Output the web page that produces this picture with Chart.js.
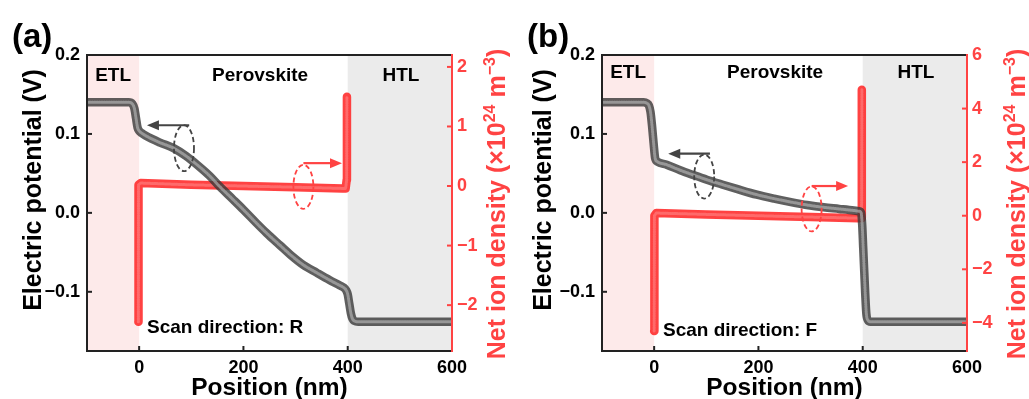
<!DOCTYPE html>
<html lang="en">
<head>
<meta charset="UTF-8">
<title>Electric potential and net ion density</title>
<script src="https://cdn.jsdelivr.net/npm/chart.js"></script>
<style>
  body { margin: 0; background: #fff; }
  #wrap { position: relative; width: 1029px; height: 399px; }
  canvas { position: absolute; top: 0; }
  #chartA { left: 0; }
  #chartB { left: 515px; }
</style>
</head>
<body>
<div id="wrap">
  <canvas id="chartA" width="515" height="399"></canvas>
  <canvas id="chartB" width="514" height="399"></canvas>
</div>
<script>
// (a) scan direction R
const posPotA = [-100, -40, -20, -13, -9, -6, -3, 0, 5, 12, 40, 66, 90, 111, 135, 155, 180, 200, 225, 245, 270, 290, 315, 341, 365, 385, 393, 397, 400, 403, 406, 409, 413, 420, 600];
const potA = [0.140, 0.140, 0.140, 0.138, 0.132, 0.120, 0.108, 0.104, 0.101, 0.098, 0.089, 0.082, 0.072, 0.061, 0.047, 0.033, 0.017, 0.004, -0.013, -0.026, -0.041, -0.053, -0.066, -0.076, -0.085, -0.092, -0.095, -0.098, -0.103, -0.115, -0.127, -0.134, -0.137, -0.138, -0.138];
const posIonA = [-1.5, -1.2, 3, 100, 200, 300, 390, 396, 398, 398.5];
const ionA = [-2.28, 0.02, 0.05, 0.02, 0.0, -0.02, -0.04, -0.04, 0.1, 1.5];

// (b) scan direction F
const posPotB = [-100, -40, -20, -14, -10, -7, -4, -1, 2, 6, 24, 50, 75, 101, 130, 160, 197, 230, 260, 293, 325, 355, 383, 393, 397, 399, 401, 403, 405, 407, 410, 415, 600];
const potB = [0.140, 0.140, 0.140, 0.139, 0.136, 0.128, 0.110, 0.088, 0.069, 0.065, 0.061, 0.054, 0.048, 0.042, 0.036, 0.030, 0.023, 0.018, 0.014, 0.010, 0.007, 0.005, 0.003, 0.002, 0.000, -0.015, -0.045, -0.075, -0.105, -0.128, -0.136, -0.138, -0.138];
const posIonB = [0, 0.5, 4, 100, 200, 300, 392, 397, 398, 398.5];
const ionB = [-4.3, 0.0, 0.1, 0.05, 0.0, -0.05, -0.09, -0.09, 0.5, 4.7];

const xTicks = [0, 200, 400, 600];
const xTickLabels = ['0', '200', '400', '600'];
const potTicks = [-0.1, 0.0, 0.1, 0.2];
const potTickLabels = ['\u22120.1', '0.0', '0.1', '0.2'];
const ionTicksA = [-2, -1, 0, 1, 2];
const ionTickLabelsA = ['\u22122', '\u22121', '0', '1', '2'];
const ionTicksB = [-4, -2, 0, 2, 4, 6];
const ionTickLabelsB = ['\u22124', '\u22122', '0', '2', '4', '6'];

const layers = [
  { name: 'ETL', from: -100, to: 0, mid: -50, color: '#fdeaea' },
  { name: 'Perovskite', from: 0, to: 400, mid: 232, color: null },
  { name: 'HTL', from: 400, to: 600, mid: 502, color: '#ebebeb' }
];

const FONT = '"Liberation Sans", Arial, sans-serif';
const RED = '#ff4343';

function pairs(xs, ys) {
  return xs.map((x, i) => ({ x: x, y: ys[i] }));
}

function arrow(ctx, x0, x1, y, color) {
  const dir = Math.sign(x1 - x0);
  ctx.strokeStyle = color;
  ctx.fillStyle = color;
  ctx.lineWidth = 2.2;
  ctx.setLineDash([]);
  ctx.beginPath();
  ctx.moveTo(x0, y);
  ctx.lineTo(x1 - dir * 8, y);
  ctx.stroke();
  ctx.beginPath();
  ctx.moveTo(x1, y);
  ctx.lineTo(x1 - dir * 12, y - 5);
  ctx.lineTo(x1 - dir * 12, y + 5);
  ctx.closePath();
  ctx.fill();
}

function rotatedText(ctx, parts, cx, cy, size, color) {
  const big = 'bold ' + size + 'px ' + FONT;
  const small = 'bold ' + Math.round(size * 0.62) + 'px ' + FONT;
  ctx.save();
  ctx.translate(cx, cy);
  ctx.rotate(-Math.PI / 2);
  ctx.fillStyle = color;
  ctx.textBaseline = 'alphabetic';
  ctx.textAlign = 'left';
  let total = 0;
  parts.forEach(p => { ctx.font = p[1] ? small : big; total += ctx.measureText(p[0]).width; });
  let xx = -total / 2;
  parts.forEach(p => {
    ctx.font = p[1] ? small : big;
    ctx.fillText(p[0], xx, size * 0.36 - (p[1] ? size * 0.42 : 0));
    xx += ctx.measureText(p[0]).width;
  });
  ctx.restore();
}

const panelDecor = {
  id: 'panelDecor',
  beforeDraw(chart) {
    const { ctx, chartArea: a, scales: { x } } = chart;
    ctx.save();
    layers.forEach(l => {
      if (!l.color) return;
      const x0 = x.getPixelForValue(l.from), x1 = x.getPixelForValue(l.to);
      ctx.fillStyle = l.color;
      ctx.fillRect(x0, a.top, x1 - x0, a.bottom - a.top);
    });
    ctx.restore();
  },
  afterDraw(chart, args, o) {
    const { ctx, chartArea: a, scales: { x, y, y1 } } = chart;
    ctx.save();

    // inward ticks
    ctx.lineWidth = 2;
    ctx.strokeStyle = '#222';
    x.ticks.forEach(t => {
      const px = x.getPixelForValue(t.value);
      ctx.beginPath(); ctx.moveTo(px, a.bottom); ctx.lineTo(px, a.bottom - 5); ctx.stroke();
    });
    y.ticks.forEach(t => {
      const py = y.getPixelForValue(t.value);
      ctx.beginPath(); ctx.moveTo(a.left, py); ctx.lineTo(a.left + 5, py); ctx.stroke();
    });
    ctx.strokeStyle = RED;
    y1.ticks.forEach(t => {
      const py = y1.getPixelForValue(t.value);
      ctx.beginPath(); ctx.moveTo(a.right, py); ctx.lineTo(a.right - 5, py); ctx.stroke();
    });

    // frame
    ctx.strokeStyle = '#222';
    ctx.beginPath();
    ctx.moveTo(a.right, a.top); ctx.lineTo(a.left, a.top);
    ctx.lineTo(a.left, a.bottom); ctx.lineTo(a.right, a.bottom);
    ctx.stroke();
    ctx.strokeStyle = RED;
    ctx.beginPath(); ctx.moveTo(a.right, a.top - 1); ctx.lineTo(a.right, a.bottom + 1); ctx.stroke();

    // layer labels
    ctx.fillStyle = '#000';
    ctx.font = 'bold 19px ' + FONT;
    ctx.textAlign = 'center';
    ctx.textBaseline = 'middle';
    layers.forEach(l => ctx.fillText(l.name, x.getPixelForValue(l.mid), a.top + o.labelDy));

    // scan direction
    ctx.textAlign = 'left';
    ctx.fillText(o.scan, x.getPixelForValue(o.scanX), y.getPixelForValue(o.scanY));

    // panel tag
    ctx.font = 'bold 33px ' + FONT;
    ctx.textBaseline = 'alphabetic';
    ctx.fillText(o.tag, 12, 47);

    // ellipses and arrows
    o.notes.forEach(n => {
      const cx = x.getPixelForValue(n.x), cy = y.getPixelForValue(n.y);
      ctx.strokeStyle = n.color;
      ctx.lineWidth = 1.8;
      ctx.setLineDash([5, 3]);
      ctx.beginPath();
      ctx.ellipse(cx, cy, 10, n.ry, 0, 0, Math.PI * 2);
      ctx.stroke();
      const ay = y.getPixelForValue(n.ay);
      arrow(ctx, x.getPixelForValue(n.ax0), x.getPixelForValue(n.ax1), ay, n.color);
    });

    // axis titles
    rotatedText(ctx, [['Electric potential (V)', 0]], o.leftTitleX, 190, 25, '#000');
    rotatedText(ctx, [['Net ion density (\u00d710', 0], ['24', 1], [' m', 0], ['\u22123', 1], [')', 0]], o.rightTitleX, 204, 25, RED);
    ctx.fillStyle = '#000';
    ctx.font = 'bold 24.5px ' + FONT;
    ctx.textAlign = 'center';
    ctx.textBaseline = 'middle';
    ctx.fillText('Position (nm)', (a.left + a.right) / 2, 388);

    ctx.restore();
  }
};

const tickFont = { family: FONT, size: 18, weight: 'bold' };

function makePanel(id, p) {
  const potData = pairs(p.posPot, p.pot);
  const ionData = pairs(p.posIon, p.ion);
  return new Chart(document.getElementById(id), {
    type: 'line',
    data: {
      datasets: [
        { data: potData, yAxisID: 'y', borderColor: 'rgba(175,175,175,0.7)', borderWidth: 3, borderDash: [1.2, 1.2], cubicInterpolationMode: 'monotone' },
        { data: potData, yAxisID: 'y', borderColor: 'rgba(55,55,55,0.8)', borderWidth: 8.5, cubicInterpolationMode: 'monotone' },
        { data: ionData, yAxisID: 'y1', borderColor: 'rgba(255,140,140,0.55)', borderWidth: 3, borderDash: [1.2, 1.2] },
        { data: ionData, yAxisID: 'y1', borderColor: 'rgba(255,45,45,0.9)', borderWidth: 8.5 }
      ]
    },
    options: {
      responsive: false,
      animation: false,
      events: [],
      layout: { padding: { top: 55, left: 0, right: 0, bottom: 0 } },
      elements: {
        point: { radius: 0 },
        line: { tension: 0, borderCapStyle: 'round', borderJoinStyle: 'round' }
      },
      plugins: { legend: { display: false }, tooltip: { enabled: false }, panelDecor: p.decor },
      scales: {
        x: {
          type: 'linear', min: -100, max: 600,
          grid: { display: false, drawTicks: false }, border: { display: false },
          afterBuildTicks: s => { s.ticks = xTicks.map(v => ({ value: v })); },
          afterFit: s => { s.height = 48; },
          ticks: { padding: 6, color: '#000', font: tickFont, autoSkip: false, maxRotation: 0, callback: (v, i) => xTickLabels[i] }
        },
        y: {
          position: 'left', min: -0.175, max: 0.2,
          grid: { display: false, drawTicks: false }, border: { display: false },
          afterBuildTicks: s => { s.ticks = potTicks.map(v => ({ value: v })); },
          afterFit: s => { s.width = 87; },
          ticks: { padding: 7, color: '#000', font: tickFont, autoSkip: false, callback: (v, i) => potTickLabels[i] }
        },
        y1: {
          position: 'right', min: p.ionMin, max: p.ionMax,
          grid: { display: false, drawTicks: false }, border: { display: false },
          afterBuildTicks: s => { s.ticks = p.ionTicks.map(v => ({ value: v })); },
          afterFit: s => { s.width = p.rightWidth; },
          ticks: { padding: 5, color: RED, font: tickFont, autoSkip: false, callback: (v, i) => p.ionTickLabels[i] }
        }
      }
    },
    plugins: [panelDecor]
  });
}

makePanel('chartA', {
  posPot: posPotA, pot: potA, posIon: posIonA, ion: ionA,
  ionMin: -2.77, ionMax: 2.2, ionTicks: ionTicksA, ionTickLabels: ionTickLabelsA, rightWidth: 63,
  decor: {
    tag: '(a)', scan: 'Scan direction: R', scanX: 15, scanY: -0.146, labelDy: 21,
    leftTitleX: 32, rightTitleX: 496,
    notes: [
      { x: 86, y: 0.082, ry: 23, ay: 0.111, ax0: 96, ax1: 15, color: '#444' },
      { x: 315, y: 0.033, ry: 22, ay: 0.063, ax0: 315, ax1: 389, color: RED }
    ]
  }
});

makePanel('chartB', {
  posPot: posPotB, pot: potB, posIon: posIonB, ion: ionB,
  ionMin: -5.05, ionMax: 6, ionTicks: ionTicksB, ionTickLabels: ionTickLabelsB, rightWidth: 62,
  decor: {
    tag: '(b)', scan: 'Scan direction: F', scanX: 17, scanY: -0.149, labelDy: 18,
    leftTitleX: 27, rightTitleX: 501,
    notes: [
      { x: 96, y: 0.046, ry: 22, ay: 0.075, ax0: 107, ax1: 27, color: '#444' },
      { x: 302, y: 0.005, ry: 22.5, ay: 0.034, ax0: 302, ax1: 372, color: RED }
    ]
  }
});
</script>
</body>
</html>
